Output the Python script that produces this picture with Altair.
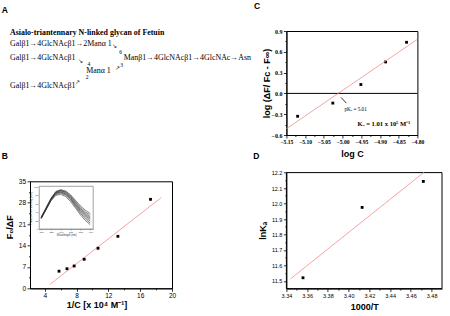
import altair as alt
import pandas as pd

SANS = "Liberation Sans"
SERIF = "Liberation Serif"
FIT = "#f28c8c"

# ---------------- Panel A : glycan structure (text diagram) ----------------
glycan_title = "Asialo-triantennary N-linked glycan of Fetuin"
glycan_words = ["Galβ1→4GlcNAcβ1→2Manα 1", "Galβ1→4GlcNAcβ1",
                "Manβ1→4GlcNAcβ1→4GlcNAc→Asn", "Manα 1", "Galβ1→4GlcNAcβ1"]
glycan_marks = ["↘", "6", "↘", "4", "↗", "3", "2", "↗"]
# layout (pixels, relative to panel A origin)
words_pos = [(-20, 12.5), (-20, 26.8), (93.7, 27.0), (56.2, 39.8), (-20, 54.5)]
marks_pos = [(84.5, 15), (90.7, 21), (50.5, 29.5), (59, 32.5),
             (87.2, 36.5), (91.7, 34), (57.2, 46.2), (47.5, 51)]
title_pos = (-20, 1.5)

# ---------------- Panel B : Fo/dF vs 1/C ----------------
b_x = [5.8, 6.8, 7.7, 8.96, 10.7, 13.2, 17.3]
b_y = [5.6, 6.4, 7.3, 9.5, 13.1, 17.0, 29.1]
b_fit_x = [4.67, 18.66]
b_fit_y = [1.3, 29.7]
b_xticks = [4, 8, 12, 16, 20]
b_yticks = [0, 7, 14, 21, 28, 35]
b_xminor = [6, 10, 14, 18]
b_yminor = [3.5, 10.5, 17.5, 24.5, 31.5]

# inset: emission spectra
wavelength = [300, 310, 320, 330, 340, 350, 360, 370, 380, 390, 400]
spectra = [
    [28, 50, 72, 88, 92, 89, 80, 67, 54, 44, 36],
    [27, 49, 71, 87, 91, 87, 78, 64, 51, 40, 32],
    [27, 48, 70, 86, 90, 86, 76, 62, 48, 37, 28],
    [26, 48, 70, 85, 89, 84, 74, 59, 45, 34, 25],
    [26, 47, 69, 84, 87, 82, 72, 57, 43, 31, 22],
    [25, 46, 68, 83, 86, 81, 70, 55, 40, 28, 18],
    [25, 46, 67, 81, 84, 79, 68, 52, 37, 24, 14],
    [24, 45, 66, 79, 81, 76, 64, 49, 33, 20, 10],
]
inset_xticks = [300, 320, 340, 360, 380, 400]
inset_yticks = [0, 20, 40, 60, 80, 100]

# ---------------- Panel C : log plot ----------------
c_x = [-5.12, -5.026, -4.951, -4.885, -4.829]
c_y = [-0.33, -0.14, 0.128, 0.454, 0.737]
c_fit_x = [-5.15, -4.80]
c_fit_y = [-0.51, 0.78]
c_xticks = [-5.15, -5.10, -5.05, -5.00, -4.95, -4.90, -4.85, -4.80]
c_yticks = [-0.6, -0.3, 0.0, 0.3, 0.6, 0.9]
c_xminor = [-5.125, -5.075, -5.025, -4.975, -4.925, -4.875, -4.825]
c_yminor = [-0.45, -0.15, 0.15, 0.45, 0.75]
pk_text, pk_xy = "pKₐ = 5.01", (-4.995, -0.23)
ka_text, ka_xy = "Kₐ = 1.01 x 10⁵ M⁻¹", (-4.96, -0.437)
leader_x, leader_y = [-5.004, -4.99], [-0.058, -0.14]

# ---------------- Panel D : van't Hoff ----------------
d_x = [3.356, 3.413, 3.472]
d_y = [11.52, 11.975, 12.143]
d_fit_x = [3.344, 3.473]
d_fit_y = [11.513, 12.204]
d_xticks = [3.34, 3.36, 3.38, 3.40, 3.42, 3.44, 3.46, 3.48]
d_yticks = [11.5, 11.6, 11.7, 11.8, 11.9, 12.0, 12.1, 12.2]
d_xminor = [3.35, 3.37, 3.39, 3.41, 3.43, 3.45, 3.47]
d_yminor = [11.55, 11.65, 11.75, 11.85, 11.95, 12.05, 12.15]

# ---------------- sizes (plot areas) ----------------
A_W, A_H = 145.3, 112.7
B_W, B_H = 142, 107
C_W, C_H = 131, 104
D_W, D_H, D_EXT = 155.6, 107.3, 8.7   # D's frame reaches D_EXT px above its grid cell


def main_axis(orient, values, fmt, font, size, title, tx, ty, weight="normal"):
    return alt.Axis(orient=orient, values=values, format=fmt, labelFont=font, labelFontSize=size,
                    labelFontWeight=weight, labelPadding=1.5, tickSize=3, tickWidth=0.8,
                    labelOverlap=False, labelFlush=False, labelBound=False,
                    domainWidth=1, domainColor="black", tickColor="black", labelColor="black",
                    grid=False, title=title, titleFont=SANS, titleFontWeight="bold",
                    titleFontSize=9, titleX=tx, titleY=ty, titleBaseline="middle",
                    titleAlign="center", titleColor="black")


def minor_layer(df, xf, yf, xs, ys, xminor, yminor):
    return alt.Chart(df).mark_point(opacity=0).encode(
        x=alt.X(f"{xf}:Q", scale=xs,
                axis=alt.Axis(values=xminor, labels=False, tickSize=1.5, domain=False,
                              title=None, orient="bottom", grid=False, tickColor="black",
                              tickWidth=0.8)),
        y=alt.Y(f"{yf}:Q", scale=ys,
                axis=alt.Axis(values=yminor, labels=False, tickSize=1.5, domain=False,
                              title=None, orient="left", grid=False, tickColor="black",
                              tickWidth=0.8)),
    )


def letter(ch, px, py):
    return alt.Chart(pd.DataFrame({"t": [ch]})).mark_text(
        font=SANS, fontWeight="bold", fontSize=8.5, align="center", baseline="middle",
        color="black").encode(x=alt.value(px), y=alt.value(py), text="t:N")


# ================= Panel A =================
one = pd.DataFrame({"a": [0]})
anchor = alt.Chart(one).mark_rect(opacity=0).encode(
    x=alt.value(-29.3), x2=alt.value(0), y=alt.value(-31), y2=alt.value(0))
a_title = alt.Chart(pd.DataFrame({"t": [glycan_title], "px": [title_pos[0]], "py": [title_pos[1]]})).mark_text(
    font=SERIF, fontWeight="bold", fontSize=7.9, align="left", baseline="middle", color="black"
).encode(x=alt.X("px:Q", scale=None), y=alt.Y("py:Q", scale=None), text="t:N")
a_words = alt.Chart(pd.DataFrame({"t": glycan_words, "px": [p[0] for p in words_pos],
                                  "py": [p[1] for p in words_pos]})).mark_text(
    font=SERIF, fontSize=7.9, align="left", baseline="middle", color="black"
).encode(x=alt.X("px:Q", scale=None), y=alt.Y("py:Q", scale=None), text="t:N")
a_marks = alt.Chart(pd.DataFrame({"t": glycan_marks, "px": [p[0] for p in marks_pos],
                                  "py": [p[1] for p in marks_pos]})).mark_text(
    font=SERIF, fontSize=5.6, align="center", baseline="middle", color="black"
).encode(x=alt.X("px:Q", scale=None), y=alt.Y("py:Q", scale=None), text="t:N")
panelA = alt.layer(anchor, letter("A", -25.3, -21), a_title, a_words, a_marks).properties(
    width=A_W, height=A_H, view=alt.ViewBackground(stroke=None))

# ================= Panel B =================
b_df = pd.DataFrame({"x": b_x, "y": b_y})
b_fit = pd.DataFrame({"x": b_fit_x, "y": b_fit_y})
b_xs = alt.Scale(domain=[2.15, 20], nice=False, zero=False)
b_ys = alt.Scale(domain=[0, 35], nice=False, zero=False)
b_frame = alt.Chart(one).mark_rect(fill="white", stroke="#8a8a8a", strokeWidth=0.8).encode(
    x=alt.value(9.2), x2=alt.value(63.2), y=alt.value(5), y2=alt.value(47.7))
b_pts = alt.Chart(b_df).mark_square(size=8, color="black", opacity=1).encode(
    x=alt.X("x:Q", scale=b_xs, axis=main_axis("bottom", b_xticks, "d", SANS, 6.5, "1/C [x 10⁴ M⁻¹]", 66.4, 16)),
    y=alt.Y("y:Q", scale=b_ys, axis=main_axis("left", b_yticks, "d", SANS, 6.5, "F₀/ΔF", -20.3, 45.5)),
)
b_line = alt.Chart(b_fit).mark_line(color=FIT, strokeWidth=0.8).encode(
    x=alt.X("x:Q", scale=b_xs, axis=None), y=alt.Y("y:Q", scale=b_ys, axis=None))

spec_rows = []
for i, s in enumerate(spectra):
    for w, v in zip(wavelength, s):
        spec_rows.append({"w": w, "v": v, "k": i})
spec_df = pd.DataFrame(spec_rows)
inset_ax = dict(labelFont=SANS, labelFontSize=2.5, labelPadding=0.5, tickSize=1,
                tickWidth=0.5, domainWidth=0.6, domainColor="#666", tickColor="#666",
                labelColor="#333", grid=False, titleFont=SANS, titleFontSize=2.6,
                titleColor="#333", titleFontWeight="normal", titlePadding=1)
b_inset = alt.Chart(spec_df).mark_line(color="#333", strokeWidth=0.6).encode(
    x=alt.X("w:Q", scale=alt.Scale(domain=[296, 406], range=[9.2, 63.2], nice=False, zero=False),
            axis=alt.Axis(orient="bottom", offset=-(B_H - 47.7), values=inset_xticks,
                          title="Wavelength (nm)", **inset_ax)),
    y=alt.Y("v:Q", scale=alt.Scale(domain=[0, 100], range=[47.7, 5], nice=False, zero=False),
            axis=alt.Axis(orient="left", offset=-9.2, values=inset_yticks,
                          title="Fluorescence intensity (a.u.)", **inset_ax)),
    detail="k:N",
)
panelB = alt.layer(
    b_frame, b_line, b_pts, letter("B", -25.3, -25), b_inset,
    minor_layer(b_df, "x", "y", b_xs, b_ys, b_xminor, b_yminor),
).resolve_scale(x="independent", y="independent").properties(width=B_W, height=B_H)

# ================= Panel C =================
c_df = pd.DataFrame({"x": c_x, "y": c_y})
c_fit = pd.DataFrame({"x": c_fit_x, "y": c_fit_y})
c_xs = alt.Scale(domain=[-5.15, -4.80], nice=False, zero=False)
c_ys = alt.Scale(domain=[-0.6, 0.9], nice=False, zero=False)
c_pts = alt.Chart(c_df).mark_square(size=8, color="black", opacity=1).encode(
    x=alt.X("x:Q", scale=c_xs, axis=main_axis("bottom", c_xticks, ".2f", SERIF, 5.6, "log C", 65.5, 18, "bold")),
    y=alt.Y("y:Q", scale=c_ys, axis=main_axis("left", c_yticks, ".1f", SERIF, 6, "log (ΔF/ Fc - F∞)", -19.5, 52, "bold")),
)
c_zero = alt.Chart(one).mark_rule(color="black", strokeWidth=1).encode(
    x=alt.value(0), x2=alt.value(C_W), y=alt.Y(datum=0, type="quantitative", scale=c_ys, axis=None))
c_line = alt.Chart(c_fit).mark_line(color=FIT, strokeWidth=0.8).encode(
    x=alt.X("x:Q", scale=c_xs, axis=None), y=alt.Y("y:Q", scale=c_ys, axis=None))
c_lead = alt.Chart(pd.DataFrame({"x": [leader_x[0]], "x2": [leader_x[1]],
                                 "y": [leader_y[0]], "y2": [leader_y[1]]})).mark_rule(
    color="black", strokeWidth=0.8).encode(
    x=alt.X("x:Q", scale=c_xs, axis=None), x2="x2:Q",
    y=alt.Y("y:Q", scale=c_ys, axis=None), y2="y2:Q")
c_pk = alt.Chart(pd.DataFrame({"t": [pk_text], "x": [pk_xy[0]], "y": [pk_xy[1]]})).mark_text(
    font=SERIF, fontSize=5.2, align="left", baseline="middle", color="black").encode(
    x=alt.X("x:Q", scale=c_xs, axis=None), y=alt.Y("y:Q", scale=c_ys, axis=None), text="t:N")
c_ka = alt.Chart(pd.DataFrame({"t": [ka_text], "x": [ka_xy[0]], "y": [ka_xy[1]]})).mark_text(
    font=SERIF, fontWeight="bold", fontSize=6.6, align="left", baseline="middle", color="black").encode(
    x=alt.X("x:Q", scale=c_xs, axis=None), y=alt.Y("y:Q", scale=c_ys, axis=None), text="t:N")
panelC = alt.layer(
    c_pts, c_zero, c_line, c_lead, c_pk, c_ka, letter("C", -29.3, -25),
    minor_layer(c_df, "x", "y", c_xs, c_ys, c_xminor, c_yminor),
).resolve_scale(x="independent", y="independent").properties(width=C_W, height=C_H)

# ================= Panel D =================
d_df = pd.DataFrame({"x": d_x, "y": d_y})
d_fit = pd.DataFrame({"x": d_fit_x, "y": d_fit_y})
d_xs = alt.Scale(domain=[3.34, 3.49], nice=False, zero=False)
d_ys = alt.Scale(domain=[11.45, 12.2], range=[D_H, -D_EXT], nice=False, zero=False)
d_frame = alt.Chart(one).mark_rect(fill=None, stroke="black", strokeWidth=1).encode(
    x=alt.value(0), x2=alt.value(D_W), y=alt.value(-D_EXT), y2=alt.value(D_H))
d_pts = alt.Chart(d_df).mark_square(size=8, color="black", opacity=1).encode(
    x=alt.X("x:Q", scale=d_xs, axis=main_axis("bottom", d_xticks, ".2f", SANS, 5.5, "1000/T", 77.8, 17.7)),
    y=alt.Y("y:Q", scale=d_ys, axis=main_axis("left", d_yticks, ".1f", SANS, 5.5, "lnKₐ", -23.7, 49)),
)
d_line = alt.Chart(d_fit).mark_line(color=FIT, strokeWidth=0.8).encode(
    x=alt.X("x:Q", scale=d_xs, axis=None), y=alt.Y("y:Q", scale=d_ys, axis=None))
panelD = alt.layer(
    d_frame, d_line, d_pts, letter("D", -30, -25),
    minor_layer(d_df, "x", "y", d_xs, d_ys, d_xminor, d_yminor),
).resolve_scale(x="independent", y="independent").properties(
    width=D_W, height=D_H, view=alt.ViewBackground(stroke=None))

chart = alt.concat(
    panelA, panelC, panelB, panelD, columns=2,
    spacing={"row": 37.3, "column": 110.4},
).properties(
    align="none", bounds="flush", padding=0, background="white",
).configure_view(stroke="black", strokeWidth=1)

chart.save("out.html", embed_options={"renderer": "svg", "actions": False})
